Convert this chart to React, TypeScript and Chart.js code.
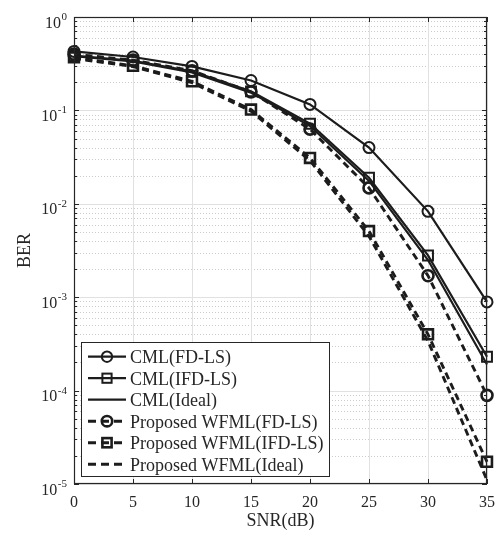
import React, { useEffect, useRef } from 'react';
import { Chart, registerables } from 'chart.js';

Chart.register(...registerables);

// ---- data ----
const snr = [0, 5, 10, 15, 20, 25, 30, 35];
const cmlFdLs = [0.428, 0.373, 0.296, 0.209, 0.116, 0.040, 0.0083, 0.00089];
const cmlIfdLs = [0.385, 0.34, 0.262, 0.16, 0.072, 0.019, 0.0028, 0.00023];
const cmlIdeal = [0.38, 0.335, 0.255, 0.155, 0.068, 0.0176, 0.0025, 0.00019];
const wfmlFdLs = [0.40, 0.345, 0.266, 0.158, 0.063, 0.0148, 0.0017, 0.000089];
const wfmlIfdLs = [0.37, 0.30, 0.205, 0.102, 0.031, 0.0051, 0.0004, 0.0000173];
const wfmlIdeal = [0.36, 0.295, 0.198, 0.098, 0.029, 0.0045, 0.00034, 0.000011];

const xTicks = [0, 5, 10, 15, 20, 25, 30, 35];
const yExponents = [0, -1, -2, -3, -4, -5];
const seriesLabels = [
  'CML(FD-LS)',
  'CML(IFD-LS)',
  'CML(Ideal)',
  'Proposed WFML(FD-LS)',
  'Proposed WFML(IFD-LS)',
  'Proposed WFML(Ideal)',
];
const xTitle = 'SNR(dB)';
const yTitle = 'BER';

const INK = '#1c1c1c';
const AX = '#262626';
const FONT = '"Liberation Serif", "DejaVu Serif", serif';
const DASH = [7, 4.5];

type Style = { dashed: boolean; marker: false | 'circle' | 'rect' };
const styles: Style[] = [
  { dashed: false, marker: 'circle' },
  { dashed: false, marker: 'rect' },
  { dashed: false, marker: false },
  { dashed: true, marker: 'circle' },
  { dashed: true, marker: 'rect' },
  { dashed: true, marker: false },
];
const seriesValues = [cmlFdLs, cmlIfdLs, cmlIdeal, wfmlFdLs, wfmlIfdLs, wfmlIdeal];

const matlabPlugin = {
  id: 'matlabAxes',
  beforeDatasetsDraw(chart: any) {
    const { ctx, chartArea, scales } = chart;
    const { left, right, top, bottom } = chartArea;
    const x = scales.x;
    const y = scales.y;
    ctx.save();
    ctx.fillStyle = '#ffffff';
    ctx.fillRect(left, top, right - left, bottom - top);
    // minor y grid (dotted)
    ctx.strokeStyle = '#cccccc';
    ctx.lineWidth = 1;
    ctx.setLineDash([1, 2]);
    for (let k = -5; k < 0; k++) {
      for (let m = 2; m <= 9; m++) {
        const py = Math.round(y.getPixelForValue(m * Math.pow(10, k))) + 0.5;
        ctx.beginPath();
        ctx.moveTo(left, py);
        ctx.lineTo(right, py);
        ctx.stroke();
      }
    }
    ctx.setLineDash([]);
    ctx.strokeStyle = '#e1e1e1';
    for (const e of yExponents) {
      const py = Math.round(y.getPixelForValue(Math.pow(10, e))) + 0.5;
      ctx.beginPath();
      ctx.moveTo(left, py);
      ctx.lineTo(right, py);
      ctx.stroke();
    }
    for (const t of xTicks) {
      const px = Math.round(x.getPixelForValue(t)) + 0.5;
      ctx.beginPath();
      ctx.moveTo(px, top);
      ctx.lineTo(px, bottom);
      ctx.stroke();
    }
    ctx.restore();
  },
  afterDatasetsDraw(chart: any) {
    const { ctx, chartArea, scales } = chart;
    const { left, right, top, bottom } = chartArea;
    const x = scales.x;
    const y = scales.y;
    ctx.save();
    // ticks
    ctx.strokeStyle = AX;
    ctx.lineWidth = 1;
    for (const t of xTicks) {
      const px = Math.round(x.getPixelForValue(t)) + 0.5;
      ctx.beginPath();
      ctx.moveTo(px, bottom);
      ctx.lineTo(px, bottom - 5);
      ctx.moveTo(px, top);
      ctx.lineTo(px, top + 5);
      ctx.stroke();
    }
    for (let k = -5; k <= 0; k++) {
      for (let m = 1; m <= 9; m++) {
        if (k === 0 && m > 1) break;
        const py = Math.round(y.getPixelForValue(m * Math.pow(10, k))) + 0.5;
        const len = m === 1 ? 5 : 3;
        ctx.beginPath();
        ctx.moveTo(left, py);
        ctx.lineTo(left + len, py);
        ctx.moveTo(right, py);
        ctx.lineTo(right - len, py);
        ctx.stroke();
      }
    }
    // box
    ctx.lineWidth = 1.2;
    ctx.strokeRect(left + 0.5, top + 0.5, right - left - 1, bottom - top - 1);

    // x tick labels
    ctx.fillStyle = AX;
    ctx.font = `16px ${FONT}`;
    ctx.textAlign = 'center';
    ctx.textBaseline = 'alphabetic';
    for (const t of xTicks) {
      ctx.fillText(String(t), x.getPixelForValue(t), bottom + 23);
    }
    // y tick labels with superscripts
    for (const e of yExponents) {
      const py = y.getPixelForValue(Math.pow(10, e));
      const exp = String(e);
      ctx.font = `11px ${FONT}`;
      const ew = ctx.measureText(exp).width;
      const xr = left - 7;
      ctx.textAlign = 'left';
      ctx.fillText(exp, xr - ew, py + 3);
      ctx.font = `16px ${FONT}`;
      ctx.textAlign = 'right';
      ctx.fillText('10', xr - ew - 0.5, py + 10.5);
    }
    // axis titles
    ctx.font = `18px ${FONT}`;
    ctx.textAlign = 'center';
    ctx.fillText(xTitle, (left + right) / 2, bottom + 42);
    ctx.save();
    ctx.translate(30, (top + bottom) / 2);
    ctx.rotate(-Math.PI / 2);
    ctx.fillText(yTitle, 0, 0);
    ctx.restore();

    // legend
    const lx = 81;
    const ly = 342;
    const lw = 248;
    const lh = 134;
    ctx.fillStyle = '#ffffff';
    ctx.fillRect(lx, ly, lw, lh);
    ctx.strokeStyle = AX;
    ctx.lineWidth = 1;
    ctx.strokeRect(lx + 0.5, ly + 0.5, lw, lh);
    chart.data.datasets.forEach((ds: any, i: number) => {
      const cy = 356.7 + i * 21.5;
      const st = styles[i];
      ctx.strokeStyle = INK;
      ctx.lineWidth = ds.borderWidth;
      ctx.setLineDash(st.dashed ? [8, 5] : []);
      ctx.beginPath();
      ctx.moveTo(88, cy);
      ctx.lineTo(126, cy);
      ctx.stroke();
      ctx.setLineDash([]);
      if (st.marker === 'circle') {
        ctx.lineWidth = ds.pointBorderWidth;
        ctx.beginPath();
        ctx.arc(107, cy, 5.2, 0, Math.PI * 2);
        ctx.stroke();
      } else if (st.marker === 'rect') {
        ctx.lineWidth = ds.pointBorderWidth;
        ctx.strokeRect(107 - 4.6, cy - 4.6, 9.2, 9.2);
      }
      ctx.fillStyle = AX;
      ctx.font = `18px ${FONT}`;
      ctx.textAlign = 'left';
      ctx.textBaseline = 'alphabetic';
      ctx.fillText(ds.label, 130, cy + 6.3);
    });
    ctx.restore();
  },
};

export default function App() {
  const ref = useRef<HTMLCanvasElement | null>(null);
  useEffect(() => {
    if (!ref.current) return;
    const datasets = seriesLabels.map((label, i) => {
      const st = styles[i];
      return {
        label,
        data: snr.map((s, j) => ({ x: s, y: seriesValues[i][j] })),
        borderColor: INK,
        backgroundColor: 'transparent',
        borderWidth: st.dashed ? 2.9 : 2.2,
        borderDash: st.dashed ? DASH : [],
        pointStyle: st.marker || 'circle',
        pointRadius: st.marker === 'circle' ? 5.5 : st.marker === 'rect' ? 7 : 0,
        pointBorderWidth: st.dashed ? 2.6 : 2,
        pointBorderColor: INK,
        pointBackgroundColor: 'transparent',
        pointHoverRadius: 0,
        tension: 0,
        clip: false as any,
      };
    });
    const chart = new Chart(ref.current, {
      type: 'line',
      data: { datasets },
      options: {
        animation: false,
        responsive: false,
        maintainAspectRatio: false,
        layout: { padding: { left: 74, right: 12, top: 17, bottom: 50 } },
        scales: {
          x: { type: 'linear', min: 0, max: 35, display: false },
          y: { type: 'logarithmic', min: 1e-5, max: 1, display: false },
        },
        plugins: {
          legend: { display: false },
          tooltip: { enabled: false },
        },
        events: [],
      },
      plugins: [matlabPlugin],
    });
    return () => chart.destroy();
  }, []);
  return (
    <div style={{ position: 'fixed', left: 0, top: 0, width: 499, height: 534, background: '#fff' }}>
      <canvas ref={ref} width={499} height={534} style={{ width: 499, height: 534, display: 'block' }} />
    </div>
  );
}
